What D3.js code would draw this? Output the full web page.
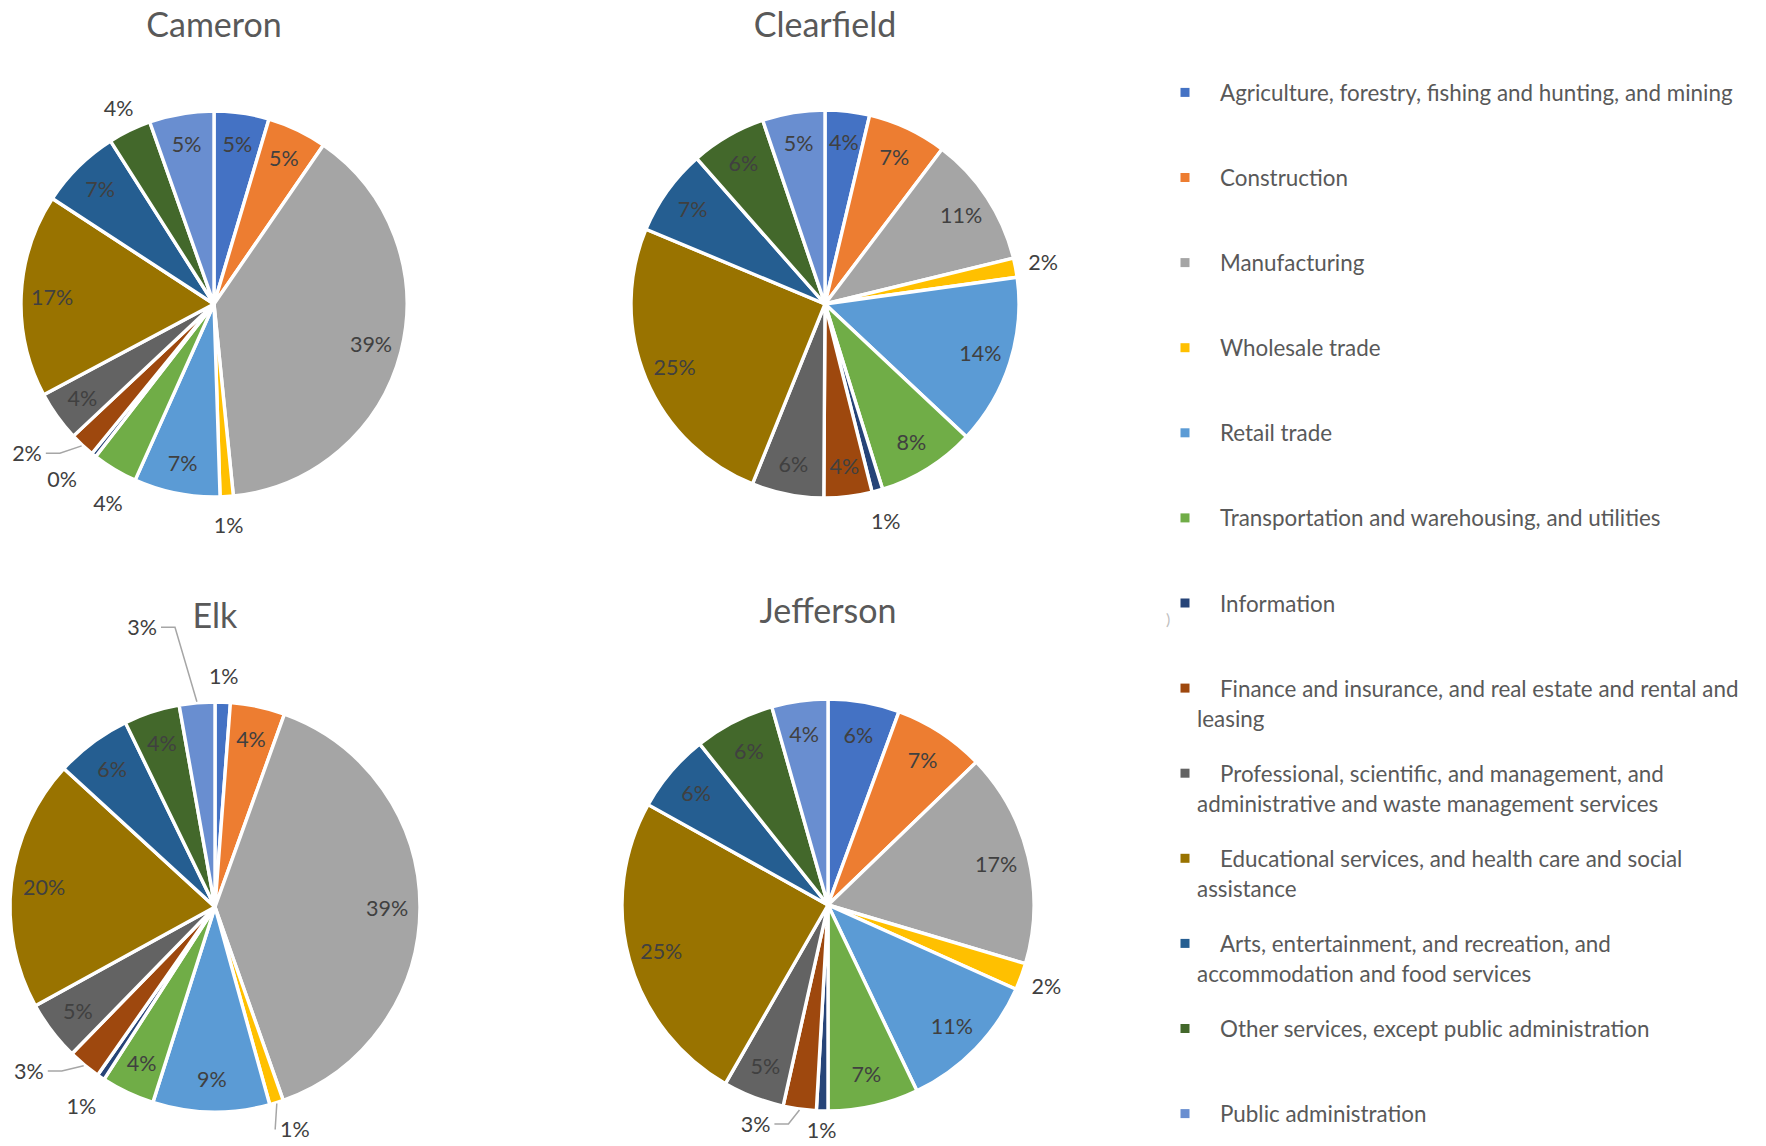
<!DOCTYPE html>
<html><head><meta charset="utf-8">
<script src="https://cdn.jsdelivr.net/npm/d3@7"></script>
<style>body{margin:0;background:#fff}svg{display:block}</style>
</head><body>
<svg id="chart" width="1766" height="1146"></svg>
<script>
// ---------- DATA ----------
const categories = [
  "Agriculture, forestry, fishing and hunting, and mining",
  "Construction",
  "Manufacturing",
  "Wholesale trade",
  "Retail trade",
  "Transportation and warehousing, and utilities",
  "Information",
  "Finance and insurance, and real estate and rental and leasing",
  "Professional, scientific, and management, and administrative and waste management services",
  "Educational services, and health care and social assistance",
  "Arts, entertainment, and recreation, and accommodation and food services",
  "Other services, except public administration",
  "Public administration"
];
const counties = ["Cameron", "Clearfield", "Elk", "Jefferson"];
// shares in percent
const cameronValues    = [4.6, 5.0, 38.8, 1.1, 7.2, 3.8, 0.4, 2.1, 4.2, 17.0, 6.8, 3.6, 5.4];
const clearfieldValues = [3.7, 6.6, 10.9, 1.6, 14.2, 8.2, 0.9, 4.0, 6.0, 25.2, 7.2, 6.3, 5.2];
const elkValues        = [1.2, 4.3, 39.1, 1.1, 9.2, 4.2, 0.6, 2.6, 4.7, 19.8, 6.0, 4.4, 2.8];
const jeffersonValues  = [5.6, 7.2, 16.8, 2.1, 11.2, 7.1, 0.9, 2.6, 4.8, 24.8, 6.2, 6.3, 4.4];
// legend line breaks (number of words on the first line)
const legendWrapWords = [0, 0, 0, 0, 0, 0, 0, 9, 5, 7, 5, 0, 0];

// ---------- STYLE ----------
const colors = ["#4472C4","#ED7D31","#A5A5A5","#FFC000","#5B9BD5","#70AD47","#264478",
                "#9E480E","#636363","#997300","#255E91","#43682B","#698ED0"];
const FONT = "Lato, 'Open Sans', sans-serif";
const layout = [
  {values: cameronValues,    cx: 214, cy: 304, r: 193, ty: 23},
  {values: clearfieldValues, cx: 825, cy: 304, r: 194, ty: 23},
  {values: elkValues,        cx: 215, cy: 907, r: 205, ty: 614},
  {values: jeffersonValues,  cx: 828, cy: 905, r: 206, ty: 609}
];
// label placement: number = outside end at that radius factor;
// [angleDeg, radiusFactor] = moved label
const labelPlacement = [
  {3: 1.145, 5: [208, 1.17], 6: [221, 1.2], 11: 1.13, 7: [231.4, 1.24]},
  {3: 1.145, 6: 1.16},
  {0: 1.13, 6: 1.17, 3: [160.2, 1.15], 7: [228.6, 1.21], 12: [345.4, 1.41]},
  {3: 1.13, 6: 1.095, 7: [198.3, 1.12]}
];
// which moved labels draw a leader line
const leaderLines = [{7: true}, {}, {3: true, 7: true, 12: true}, {7: true}];

const svg = d3.select("#chart");
const pie = d3.pie().sort(null).value(d => d);
const fmt = d3.format(".0%");

layout.forEach((L, ci) => {
  const total = d3.sum(L.values);
  const g = svg.append("g").attr("transform", `translate(${L.cx},${L.cy})`);
  const arc = d3.arc().innerRadius(0).outerRadius(L.r);
  const arcs = pie(L.values);

  g.selectAll("path.slice").data(arcs).join("path")
    .attr("class", "slice")
    .attr("d", arc)
    .attr("fill", (d, i) => colors[i])
    .attr("stroke", "#fff")
    .attr("stroke-width", 3.4)
    .attr("stroke-linejoin", "round");

  // title
  svg.append("text")
    .attr("x", L.cx).attr("y", L.ty)
    .attr("text-anchor", "middle").attr("dominant-baseline", "central")
    .attr("font-family", FONT).attr("font-size", 34).attr("fill", "#595959")
    .text(counties[ci]);

  const place = labelPlacement[ci];
  arcs.forEach((d, i) => {
    const mid = (d.startAngle + d.endAngle) / 2;
    const txt = fmt(d.value / total);
    const p = place[i];
    let x, y;
    if (p === undefined) {
      const rr = L.r * 0.84;
      x = Math.sin(mid) * rr; y = -Math.cos(mid) * rr;
    } else if (typeof p === "number") {
      const rr = L.r * p;
      x = Math.sin(mid) * rr; y = -Math.cos(mid) * rr;
    } else {
      const a = p[0] * Math.PI / 180, rr = L.r * p[1];
      x = Math.sin(a) * rr; y = -Math.cos(a) * rr;
    }
    const t = g.append("text")
      .attr("x", x).attr("y", y)
      .attr("text-anchor", "middle").attr("dominant-baseline", "central")
      .attr("font-family", FONT).attr("font-size", 21.5).attr("fill", "#404040")
      .text(txt);
    if (leaderLines[ci][i]) {
      const w = t.node().getComputedTextLength();
      const ax = Math.sin(mid) * (L.r + 1), ay = -Math.cos(mid) * (L.r + 1);
      const dir = ax > x ? 1 : -1;
      const sx = x + dir * (w / 2 + 4), sy = y;
      const ex = sx + dir * Math.min(14, Math.abs(ax - sx)), ey = sy;
      g.insert("path", "text")
        .attr("d", d3.line()([[sx, sy], [ex, ey], [ax, ay]]))
        .attr("fill", "none").attr("stroke", "#a6a6a6").attr("stroke-width", 1.5);
    }
  });
});

// ---------- LEGEND ----------
const legend = svg.append("g");
categories.forEach((c, i) => {
  const y = 92.4 + i * 85.1;
  legend.append("rect").attr("x", 1180.5).attr("y", y - 4.5).attr("width", 9).attr("height", 9)
    .attr("fill", colors[i]);
  const words = c.split(" ");
  const n = legendWrapWords[i];
  const lines = n ? [words.slice(0, n).join(" "), words.slice(n).join(" ")] : [c];
  lines.forEach((ln, k) => {
    legend.append("text")
      .attr("x", k === 0 ? 1220 : 1197).attr("y", y + k * 30.5)
      .attr("dominant-baseline", "central")
      .attr("font-family", FONT).attr("font-size", 22.4).attr("fill", "#595959")
      .text(ln);
  });
});
// small stray mark seen in the source image
svg.append("text").attr("x", 1166).attr("y", 618).attr("dominant-baseline", "central")
  .attr("font-family", FONT).attr("font-size", 16).attr("fill", "#bfbfbf").text(")");
</script>
</body></html>
